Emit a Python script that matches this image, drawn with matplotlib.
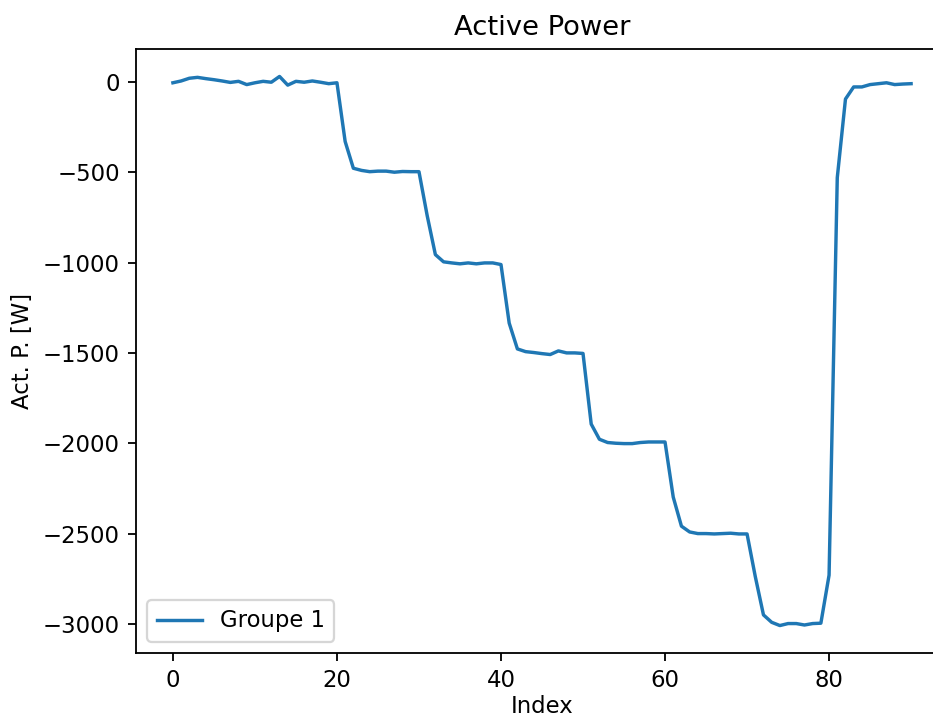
import matplotlib
matplotlib.use("Agg")
import matplotlib.pyplot as plt

# Active power readings, one per index (0..90)
index = list(range(91))
power = [
    -5, 5, 20, 25, 18, 12, 5, -3, 3, -15,
    -5, 3, -2, 30, -18, 3, -2, 5, -2, -10,
    -5, -330, -478, -490, -497, -494, -494, -500, -496, -497,
    -497, -740, -956, -996, -1002, -1007, -1002, -1007, -1002, -1002,
    -1011, -1335, -1478, -1493, -1498, -1504, -1509, -1489, -1500, -1500,
    -1503, -1894, -1978, -1996, -2000, -2002, -2002, -1996, -1993, -1993,
    -1993, -2298, -2459, -2491, -2500, -2500, -2502, -2500, -2498, -2502,
    -2502, -2737, -2950, -2991, -3009, -2998, -2998, -3006, -2998, -2996,
    -2730, -530, -95, -28, -28, -15, -10, -5, -15, -12,
    -10,
]

fig = plt.figure(figsize=(933 / 164, 720 / 164), dpi=164)
ax = fig.add_axes([136 / 933, 67 / 720, 812 / 933, 604 / 720])
ax.plot(index, power, label="Groupe 1")
ax.set_title("Active Power")
ax.set_xlabel("Index", labelpad=1.5)
ax.set_ylabel("Act. P. [W]")
ax.legend(loc="lower left")

fig.savefig("out.png", dpi=164)
